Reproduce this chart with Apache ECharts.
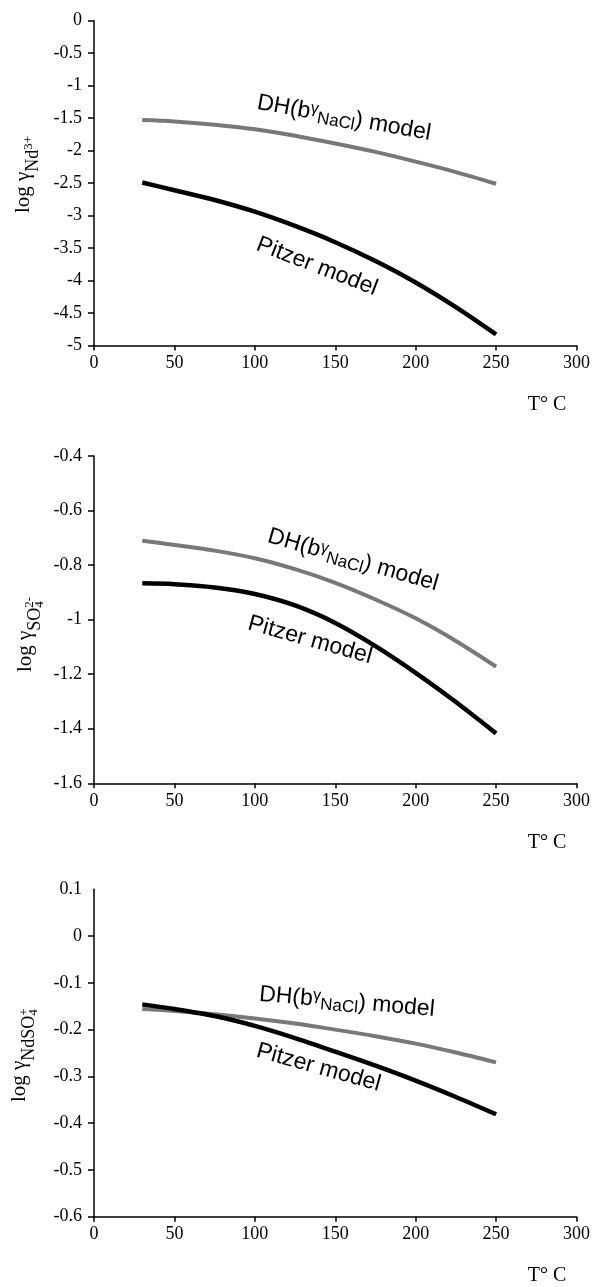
<!DOCTYPE html>
<html>
<head>
<meta charset="utf-8">
<script src="https://cdn.jsdelivr.net/npm/echarts@6/dist/echarts.min.js"></script>
<style>
  html, body { margin: 0; padding: 0; background: #fff; }
  #chart { width: 593px; height: 1287px; }
</style>
</head>
<body>
<div id="chart"></div>
<script>
// temperatures (deg C) shared by every curve
const temps = [30, 50, 75, 100, 125, 150, 175, 200, 225, 250];

// panel 1: log gamma Nd3+
const dhNd = [-1.53, -1.55, -1.60, -1.67, -1.77, -1.89, -2.02, -2.17, -2.33, -2.51];
const pitzerNd = [-2.49, -2.61, -2.76, -2.94, -3.16, -3.41, -3.70, -4.03, -4.41, -4.83];

// panel 2: log gamma SO4 2-
const dhSO4 = [-0.711, -0.726, -0.747, -0.775, -0.815, -0.865, -0.926, -0.995, -1.078, -1.172];
const pitzerSO4 = [-0.867, -0.870, -0.882, -0.906, -0.948, -1.012, -1.097, -1.195, -1.302, -1.417];

// panel 3: log gamma NdSO4+
const dhNdSO4 = [-0.156, -0.160, -0.167, -0.176, -0.187, -0.200, -0.214, -0.230, -0.249, -0.270];
const pitzerNdSO4 = [-0.146, -0.156, -0.171, -0.192, -0.218, -0.247, -0.277, -0.309, -0.344, -0.381];

// axis ranges
const xRange = [0, 300, 50];
const yMin = [-5, -1.6, -0.6];
const yMax = [0, -0.4, 0.1];
const yStep = [0.5, 0.2, 0.1];

const dhSeries = [dhNd, dhSO4, dhNdSO4];
const pitzerSeries = [pitzerNd, pitzerSO4, pitzerNdSO4];

const gridTop = [20.7, 456, 889.3];
const gridHeight = [324.8, 327.3, 327.4];

const SERIF = '"Liberation Serif", "Times New Roman", serif';
const SANS = '"Liberation Sans", Arial, sans-serif';
const GREY = '#787878';

const measureCtx = document.createElement('canvas').getContext('2d');
function textWidth(str, size, family) {
    measureCtx.font = size + 'px ' + family;
    return measureCtx.measureText(str).width;
}

// lay out a run of text pieces (with sub/superscripts) inside a rotated group
// parts: {t, s, dy} or {stack: [...]} for pieces drawn at the same x
function textRun(parts, x, y, deg, family, centered) {
    const children = [];
    let cursor = 0;
    parts.forEach(p => {
        const items = p.stack || [p];
        let adv = 0;
        items.forEach(it => {
            children.push({
                type: 'text',
                x: cursor,
                y: it.dy || 0,
                style: {
                    text: it.t,
                    fontSize: it.s,
                    fontFamily: family,
                    fill: '#000',
                    align: 'left',
                    verticalAlign: 'middle'
                }
            });
            adv = Math.max(adv, textWidth(it.t, it.s, family));
        });
        cursor += adv;
    });
    if (centered) {
        children.forEach(c => { c.x -= cursor / 2; });
    }
    return {
        type: 'group',
        x: x,
        y: y,
        rotation: deg * Math.PI / 180,
        children: children
    };
}

const dhParts = [
    { t: 'DH(b', s: 23 },
    { t: 'γ', s: 16, dy: -4 },
    { t: 'NaCl', s: 17, dy: 5 },
    { t: ') model', s: 23 }
];
const pitzerParts = [{ t: 'Pitzer model', s: 23 }];

const graphics = [
    // y-axis names
    textRun([{ t: 'log γ', s: 21 }, { t: 'Nd', s: 18, dy: 10 }, { t: '3+', s: 13, dy: 6 }],
        23, 213, 90, SERIF, false),
    textRun([{ t: 'log γ', s: 21 }, { t: 'SO', s: 18, dy: 10 },
        { stack: [{ t: '4', s: 13, dy: 15 }, { t: '2-', s: 13, dy: 5 }] }],
        25, 672, 90, SERIF, false),
    textRun([{ t: 'log γ', s: 21 }, { t: 'NdSO', s: 18, dy: 10 },
        { stack: [{ t: '4', s: 13, dy: 15 }, { t: '+', s: 13, dy: 6 }] }],
        19, 1102, 90, SERIF, false),
    // curve labels
    textRun(dhParts, 344, 118, -10.2, SANS, true),
    textRun(pitzerParts, 317, 266.5, -21, SANS, true),
    textRun(dhParts, 353, 560, -16, SANS, true),
    textRun(pitzerParts, 310, 640, -15.6, SANS, true),
    textRun(dhParts, 347, 1002, -5, SANS, true),
    textRun(pitzerParts, 318.5, 1067.5, -15.6, SANS, true)
];

// "T° C" under each x axis
gridTop.forEach((t, i) => {
    graphics.push({
        type: 'text',
        x: 547,
        y: t + gridHeight[i] + 59,
        style: {
            text: 'T° C',
            fontSize: 20,
            fontFamily: SERIF,
            fill: '#000',
            align: 'center',
            verticalAlign: 'middle'
        }
    });
});

const axisLine = { show: true, onZero: false, lineStyle: { color: '#000', width: 1.5 } };

const grids = [], xAxes = [], yAxes = [], series = [];
for (let i = 0; i < 3; i++) {
    grids.push({ left: 94, width: 484, top: gridTop[i], height: gridHeight[i] });
    xAxes.push({
        type: 'value',
        gridIndex: i,
        min: xRange[0],
        max: xRange[1],
        interval: xRange[2],
        axisLine: axisLine,
        axisTick: { show: true, inside: false, length: 5, lineStyle: { color: '#000', width: 1.5 } },
        axisLabel: { margin: 9, color: '#000', fontSize: 18, fontFamily: SERIF },
        splitLine: { show: false }
    });
    const tick = { show: true, inside: false, length: 6, lineStyle: { color: '#000', width: 1.5 } };
    if (i === 2) {
        // no tick mark at the top value of the last panel
        tick.customValues = [-0.6, -0.5, -0.4, -0.3, -0.2, -0.1, 0];
    }
    yAxes.push({
        type: 'value',
        gridIndex: i,
        min: yMin[i],
        max: yMax[i],
        interval: yStep[i],
        axisLine: axisLine,
        axisTick: tick,
        axisLabel: {
            margin: 12,
            color: '#000',
            fontSize: 18,
            fontFamily: SERIF,
            formatter: v => String(+v.toFixed(2))
        },
        splitLine: { show: false }
    });
    series.push({
        name: 'DH',
        type: 'line',
        xAxisIndex: i,
        yAxisIndex: i,
        data: temps.map((t, k) => [t, dhSeries[i][k]]),
        smooth: 0.3,
        showSymbol: false,
        lineStyle: { color: GREY, width: 4 },
        silent: true,
        z: 2
    });
    series.push({
        name: 'Pitzer',
        type: 'line',
        xAxisIndex: i,
        yAxisIndex: i,
        data: temps.map((t, k) => [t, pitzerSeries[i][k]]),
        smooth: 0.3,
        showSymbol: false,
        lineStyle: { color: '#000', width: 4.5 },
        silent: true,
        z: 3
    });
}

const chart = echarts.init(document.getElementById('chart'));
chart.setOption({
    animation: false,
    backgroundColor: '#fff',
    grid: grids,
    xAxis: xAxes,
    yAxis: yAxes,
    series: series,
    graphic: graphics
});
</script>
</body>
</html>
